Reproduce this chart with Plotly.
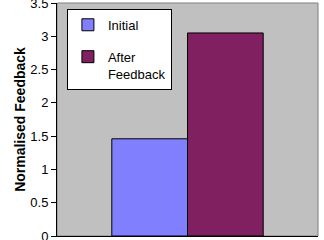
import plotly.graph_objects as go

categories = [""]
initial_vals = [1.46]
after_vals = [3.05]
series_names = ["Initial", "After<br>Feedback"]
y_ticks = [0, 0.5, 1, 1.5, 2, 2.5, 3, 3.5]
y_labels = ["0", "0.5", "1", "1.5", "2", "2.5", "3", "3.5"]

fig = go.Figure()
fig.add_trace(go.Bar(x=categories, y=initial_vals, name=series_names[0], legendgroup="a",
                     marker=dict(color="#8080FF", line=dict(color="black", width=1))))
fig.add_trace(go.Bar(x=categories, y=after_vals, name=series_names[1], legendgroup="b",
                     marker=dict(color="#802060", line=dict(color="black", width=1))))

fig.update_layout(
    width=324, height=240,
    margin=dict(l=57, r=6, t=3, b=4, autoexpand=False),
    paper_bgcolor="white",
    plot_bgcolor="#C0C0C0",
    barmode="group",
    bargap=0.42,
    bargroupgap=0,
    font=dict(family="Liberation Sans, Arial, sans-serif", size=13, color="black"),
    showlegend=True,
    legend=dict(x=0.038, y=0.975, xanchor="left", yanchor="top",
                bgcolor="white", bordercolor="black", borderwidth=1,
                font=dict(size=13), tracegroupgap=12, traceorder="grouped",
                itemwidth=30, valign="top"),
    xaxis=dict(showticklabels=False, ticks="", showline=True, linecolor="black",
               linewidth=1, mirror=False, showgrid=False, zeroline=False,
               automargin=False),
    yaxis=dict(range=[0, 3.5], tickvals=y_ticks, ticktext=y_labels,
               ticks="outside", ticklen=5, tickcolor="black",
               ticklabeloverflow="allow", automargin=False,
               showline=True, linecolor="black", linewidth=1,
               showgrid=False, zeroline=False,
               title=dict(text="<b>Normalised Feedback</b>", font=dict(size=14), standoff=1)),
    shapes=[dict(type="rect", xref="paper", yref="paper", x0=0, x1=1, y0=0, y1=1,
                 line=dict(color="#808080", width=1), layer="below")],
)

fig.write_html("out.html")
